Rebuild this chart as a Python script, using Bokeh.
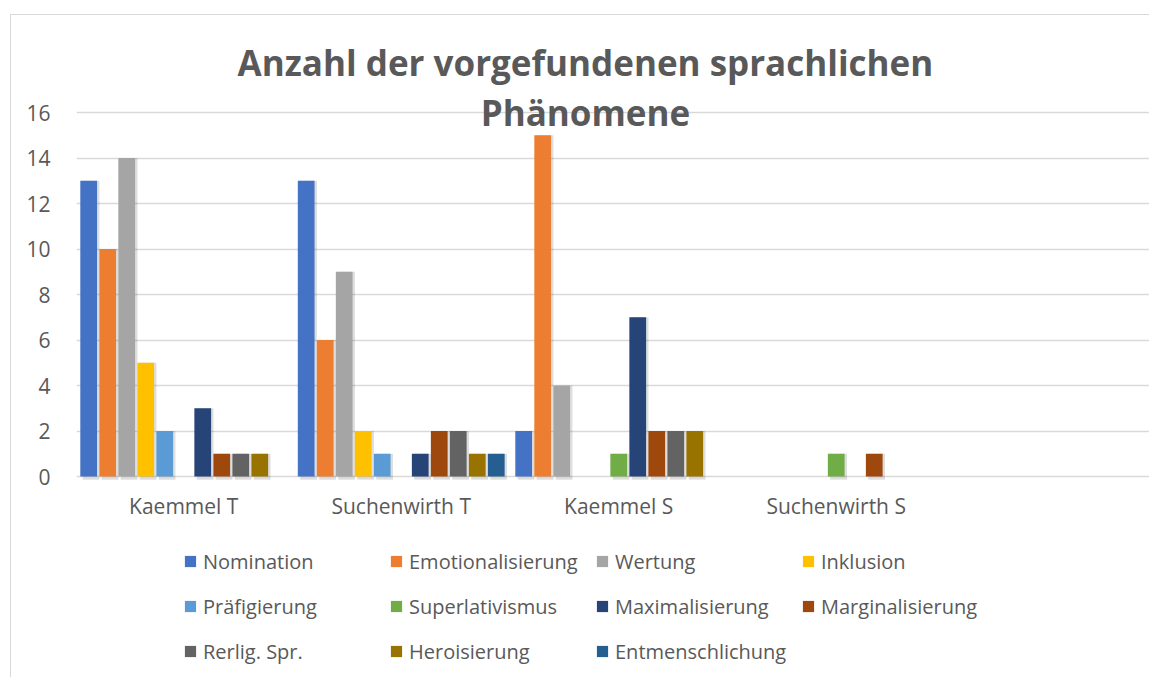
import numpy as np
from bokeh.plotting import figure
from bokeh.models import (ColumnDataSource, Legend, LegendItem, Label, FixedTicker, Range1d)
from bokeh.core.properties import value
from bokeh.transform import dodge
from bokeh.embed import file_html
from bokeh.resources import INLINE

categories = ["Kaemmel T", "Suchenwirth T", "Kaemmel S", "Suchenwirth S"]

series_names = ["Nomination", "Emotionalisierung", "Wertung", "Inklusion",
                "Präfigierung", "Superlativismus", "Maximalisierung",
                "Marginalisierung", "Rerlig. Spr.", "Heroisierung", "Entmenschlichung"]

nomination = [13, 13, 2, 0]
emotionalisierung = [10, 6, 15, 0]
wertung = [14, 9, 4, 0]
inklusion = [5, 2, 0, 0]
praefigierung = [2, 1, 0, 0]
superlativismus = [0, 0, 1, 1]
maximalisierung = [3, 1, 7, 0]
marginalisierung = [1, 2, 2, 1]
rerlig_spr = [1, 2, 2, 0]
heroisierung = [1, 1, 2, 0]
entmenschlichung = [0, 1, 0, 0]

series_values = [nomination, emotionalisierung, wertung, inklusion, praefigierung,
                 superlativismus, maximalisierung, marginalisierung, rerlig_spr,
                 heroisierung, entmenschlichung]

colors = ["#4472C4", "#ED7D31", "#A5A5A5", "#FFC000", "#5B9BD5", "#70AD47",
          "#264478", "#9E480E", "#636363", "#997300", "#255E91"]

y_ticks = [0, 2, 4, 6, 8, 10, 12, 14, 16]

title_lines = ["Anzahl der vorgefundenen sprachlichen", "Phänomene"]

TEXT = "#595959"
GRID = "#D9D9D9"
FONT = "Open Sans"

# frame: page x 75..1149, page y 14..677 (0 at 477, 16 at 113)
p = figure(width=1139, height=663, output_backend="svg", toolbar_location=None,
           x_range=Range1d(-0.493, 4.445), y_range=Range1d(-8.879, 20.264),
           min_border_left=65, min_border_right=0, min_border_top=0,
           min_border_bottom=0)
p.margin = (14, 0, 0, 10)
p.styles = {"border-top": "1.5px solid #D9D9D9", "border-left": "1.5px solid #D9D9D9"}
p.outline_line_color = None
p.background_fill_color = "white"
p.border_fill_color = "white"

x = np.arange(len(categories))
pitch = 0.0874
bar_w = 0.077
shadow_dx = 0.011
renderers = []
for i, (name, vals, col) in enumerate(zip(series_names, series_values, colors)):
    off = (i - 5) * pitch
    sh_top = [v if v > 0 else -0.14 for v in vals]
    sh_src = ColumnDataSource(dict(x=x, top=sh_top))
    p.vbar(x=dodge("x", off + shadow_dx), top="top", bottom=-0.14, width=bar_w,
           source=sh_src, fill_color="#000000", fill_alpha=0.13, line_color=None)
    src = ColumnDataSource(dict(x=x, top=vals))
    r = p.vbar(x=dodge("x", off), top="top", width=bar_w, source=src,
               fill_color=col, line_color=None)
    renderers.append(r)

# category labels (horizontal axis lies inside the frame)
p.xaxis.visible = False
cat_src = ColumnDataSource(dict(x=x, y=[0] * len(categories), text=categories))
p.text(x="x", y="y", text="text", source=cat_src, y_offset=29,
       text_align="center", text_baseline="alphabetic",
       text_font=value(FONT), text_font_size="21px", text_color=TEXT)

p.yaxis.ticker = FixedTicker(ticks=y_ticks)
p.yaxis.axis_line_color = None
p.yaxis.major_tick_line_color = None
p.yaxis.minor_tick_line_color = None
p.yaxis.major_label_text_font = FONT
p.yaxis.major_label_text_font_size = "21px"
p.yaxis.major_label_text_color = TEXT
p.yaxis.major_label_standoff = 20

p.xgrid.grid_line_color = None
p.ygrid.ticker = FixedTicker(ticks=y_ticks)
p.ygrid.grid_line_color = GRID
p.ygrid.grid_line_width = 1.5

# title (two lines, overlapping the plot area like the original)
t1 = Label(x=1.847, y=18.20, text=title_lines[0],
           text_align="center", text_baseline="alphabetic", text_font=FONT,
           text_font_style="bold", text_font_size="35px", text_color=TEXT)
t2 = Label(x=1.847, y=15.98, text=title_lines[1],
           text_align="center", text_baseline="alphabetic", text_font=FONT,
           text_font_style="bold", text_font_size="35px", text_color=TEXT)
p.add_layout(t1)
p.add_layout(t2)

# legend
items = [LegendItem(label=n, renderers=[r]) for n, r in zip(series_names, renderers)]
legend = Legend(items=items, orientation="horizontal", ncols=4,
                location=(107, 4.5),
                glyph_width=14, glyph_height=14, label_standoff=6,
                label_width=186, label_height=45, spacing=0, padding=0, margin=0,
                border_line_color=None, background_fill_alpha=0,
                label_text_font=FONT, label_text_font_size="20px",
                label_text_color=TEXT)
p.add_layout(legend, "center")

open("out.html", "w").write(file_html(p, INLINE))
